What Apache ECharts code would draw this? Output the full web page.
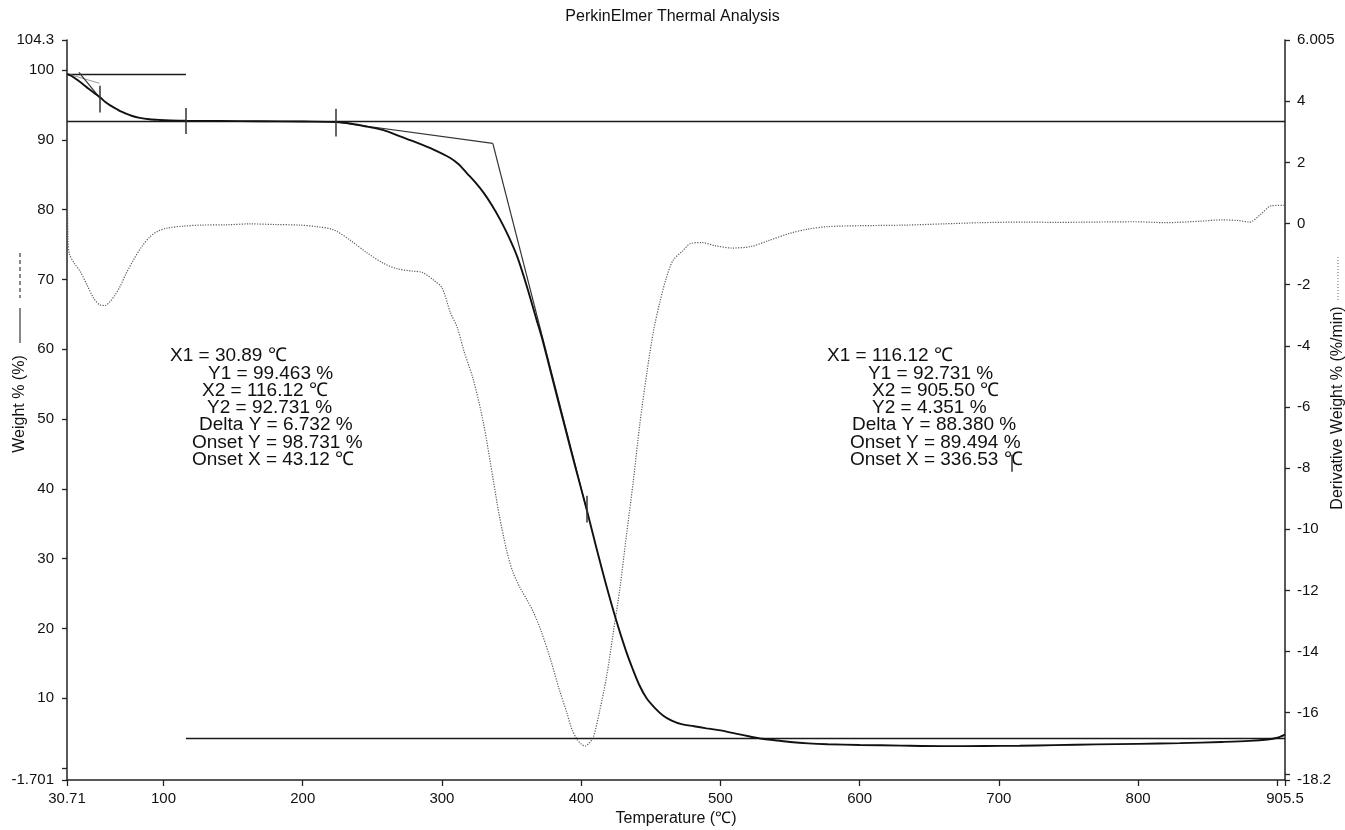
<!DOCTYPE html>
<html>
<head>
<meta charset="utf-8">
<title>PerkinElmer Thermal Analysis</title>
<script src="https://cdn.jsdelivr.net/npm/echarts@6/dist/echarts.min.js"></script>
<style>
  html, body { margin: 0; padding: 0; background: #ffffff; }
  #chart { width: 1345px; height: 830px; }
</style>
</head>
<body>
<div id="chart"></div>
<script>
// ---- TGA weight trace: temperature (°C) vs weight (%) ----
const tempC = [30.71, 34, 38, 42, 46, 50, 54.4, 58, 62, 66, 69, 73, 77, 83, 90, 97, 105, 116.12,
  140, 170, 200, 224, 235, 246, 258, 270, 282, 294, 306, 312, 318, 324, 330, 336, 342, 348, 354,
  361, 368, 372, 380, 388, 396, 404, 411, 418, 425, 432, 437, 442, 447, 453, 459, 465, 472, 481,
  490, 500, 511, 522, 530, 539, 550, 563, 577, 600, 630, 660, 690, 715, 740, 770, 800, 830, 860,
  880, 893, 900, 905.5];
const weightPct = [99.463, 99.15, 98.6, 98.0, 97.35, 96.75, 96.1, 95.45, 94.9, 94.45, 94.1, 93.75,
  93.45, 93.15, 92.95, 92.85, 92.78, 92.731, 92.70, 92.67, 92.62, 92.55, 92.3, 91.9, 91.4, 90.5,
  89.6, 88.6, 87.4, 86.5, 85.2, 83.9, 82.4, 80.6, 78.5, 76.1, 73.3, 69.0, 64.2, 61.5, 55.3, 49.1,
  43.0, 37.0, 31.5, 26.2, 21.3, 16.9, 14.2, 11.8, 10.0, 8.6, 7.5, 6.8, 6.3, 6.0, 5.7, 5.4, 4.95,
  4.5, 4.2, 4.0, 3.75, 3.55, 3.43, 3.32, 3.22, 3.15, 3.17, 3.2, 3.3, 3.4, 3.48, 3.58, 3.75, 3.9,
  4.1, 4.35, 4.8];

// ---- Derivative trace: temperature (°C) vs d(weight)/dt (%/min) ----
const dTempC = [30.71, 31.0, 31.4, 32.5, 36, 40, 45, 50, 54.4, 58, 61.6, 65, 68.8, 73, 78.4, 84,
  90.3, 96, 102.3, 115, 126, 145, 162, 180, 198, 210, 222, 234, 246, 258, 268, 278, 286, 294, 300,
  306, 311, 316, 322.5, 329.7, 336.9, 341, 346.5, 351, 356, 361, 365.6, 371, 377.6, 384, 389.6,
  393, 396.8, 400, 402.8, 405.5, 408.7, 413, 418.3, 423, 427.9, 432.5, 437.5, 442, 447.1, 452,
  456.6, 461, 466, 472.8, 478.2, 486.5, 496, 508.5, 522, 535, 549.7, 563, 577, 600, 632, 660, 687,
  720, 742, 770, 797, 820, 845, 860, 872, 880, 888, 895.6, 905.5];
const derivPctMin = [4.7, 2.0, -0.5, -1.0, -1.3, -1.55, -2.0, -2.45, -2.66, -2.68, -2.55, -2.35,
  -2.06, -1.65, -1.19, -0.78, -0.43, -0.25, -0.15, -0.08, -0.05, -0.04, -0.01, -0.03, -0.05, -0.1,
  -0.2, -0.54, -0.95, -1.3, -1.48, -1.55, -1.6, -1.85, -2.1, -2.9, -3.4, -4.2, -5.1, -6.5, -8.4,
  -9.5, -10.7, -11.4, -11.9, -12.3, -12.7, -13.3, -14.2, -15.2, -15.98, -16.5, -16.86, -17.02,
  -17.09, -17.0, -16.8, -16.0, -14.8, -13.4, -11.9, -10.2, -8.4, -6.6, -4.9, -3.5, -2.55, -1.8,
  -1.2, -0.9, -0.66, -0.62, -0.72, -0.8, -0.75, -0.55, -0.32, -0.18, -0.1, -0.07, -0.05, -0.01,
  0.03, 0.05, 0.04, 0.05, 0.06, 0.03, 0.08, 0.12, 0.1, 0.05, 0.3, 0.58, 0.6];

// ---- Axis ranges and tick values ----
const xMin = 30.71, xMax = 905.5;
const xTicks = [30.71, 100, 200, 300, 400, 500, 600, 700, 800, 900, 905.5];
const xLabels = [30.71, 100, 200, 300, 400, 500, 600, 700, 800, 905.5];
const wMin = -1.701, wMax = 104.3;
const wTicks = [-1.701, 0, 10, 20, 30, 40, 50, 60, 70, 80, 90, 100, 104.3];
const wLabels = [-1.701, 10, 20, 30, 40, 50, 60, 70, 80, 90, 100, 104.3];
const dMin = -18.2, dMax = 6.005;
const dTicks = [-18.2, -18, -16, -14, -12, -10, -8, -6, -4, -2, 0, 2, 4, 6.005];
const dLabels = [-18.2, -16, -14, -12, -10, -8, -6, -4, -2, 0, 2, 4, 6.005];

// ---- Step analysis results (step 1, step 2) ----
const stepX1 = [30.89, 116.12];
const stepY1 = [99.463, 92.731];
const stepX2 = [116.12, 905.50];
const stepY2 = [92.731, 4.351];
const stepDeltaY = [6.732, 88.380];
const onsetY = [98.731, 89.494];
const onsetX = [43.12, 336.53];

// Tangent segments used for the onset construction
const tangentStartT = [30.89, 39.3, 223.7, 336.53];
const tangentStartW = [99.463, 99.67, 92.55, 89.494];
const tangentEndT = [54.0, 54.4, 336.53, 404.0];
const tangentEndW = [98.1, 95.96, 89.494, 37.0];

// Short vertical cursor marks
const markT = [54.4, 116.12, 223.7, 404.0, 709.4];
const markLowW = [93.92, 90.83, 90.48, 35.2, 42.45];
const markHighW = [97.74, 94.55, 94.45, 39.0, 44.89];

const FONT = '"Liberation Sans", Arial, Helvetica, sans-serif';
const INK = '#111111';

const zip = (xs, ys) => xs.map((x, i) => [x, ys[i]]);

// Reference lines: step levels, tangents and cursor marks
const levelLines = [];
for (let s = 0; s < stepX1.length; s++) {
  levelLines.push({ coords: [[stepX1[s], stepY1[s]], [stepX2[s], stepY1[s]]] });
  levelLines.push({ coords: [[stepX1[s], stepY2[s]], [stepX2[s], stepY2[s]]] });
}
const tangentLines = tangentStartT.map((t, i) => ({
  coords: [[t, tangentStartW[i]], [tangentEndT[i], tangentEndW[i]]],
  lineStyle: i === 0 ? { color: '#9a9a9a', width: 1 } : { color: '#333333', width: 1.2 }
}));
const markLines = markT.map((t, i) => ({ coords: [[t, markLowW[i]], [t, markHighW[i]]] }));

// Annotation text built from the step results
const fmtC = v => v.toFixed(2) + ' \u2103';
const fmtP = v => v.toFixed(3) + ' %';
const noteLines = s => [
  'X1 = ' + fmtC(stepX1[s]),
  'Y1 = ' + fmtP(stepY1[s]),
  'X2 = ' + fmtC(stepX2[s]),
  'Y2 = ' + fmtP(stepY2[s]),
  'Delta Y = ' + fmtP(stepDeltaY[s]),
  'Onset Y = ' + fmtP(onsetY[s]),
  'Onset X = ' + fmtC(onsetX[s])
];
const noteLeft = [[170, 208, 202, 207, 199, 192, 192], [827, 868, 872, 872, 852, 850, 850]];
const noteTop = 356, noteStep = 17.3;

const graphics = [];
for (let s = 0; s < 2; s++) {
  noteLines(s).forEach((txt, i) => {
    graphics.push({
      type: 'text', x: noteLeft[s][i], y: noteTop + i * noteStep, silent: true,
      style: { text: txt, fontSize: 19, fontFamily: FONT, fill: INK,
               align: 'left', verticalAlign: 'middle', textAlign: 'left', textVerticalAlign: 'middle' }
    });
  });
}
// Left axis title with its line key
graphics.push({
  type: 'text', x: 20, y: 404, rotation: Math.PI / 2, silent: true,
  style: { text: 'Weight % (%)', fontSize: 16, fontFamily: FONT, fill: INK,
           align: 'center', verticalAlign: 'middle', textAlign: 'center', textVerticalAlign: 'middle' }
});
graphics.push({ type: 'line', silent: true, shape: { x1: 20, y1: 308, x2: 20, y2: 343 },
  style: { stroke: INK, lineWidth: 1 } });
graphics.push({ type: 'line', silent: true, shape: { x1: 20, y1: 253, x2: 20, y2: 298 },
  style: { stroke: INK, lineWidth: 1, lineDash: [4, 3] } });
// Right axis title with its line key
graphics.push({
  type: 'text', x: 1338, y: 408, rotation: Math.PI / 2, silent: true,
  style: { text: 'Derivative Weight % (%/min)', fontSize: 16, fontFamily: FONT, fill: INK,
           align: 'center', verticalAlign: 'middle', textAlign: 'center', textVerticalAlign: 'middle' }
});
graphics.push({ type: 'line', silent: true, shape: { x1: 1338, y1: 257, x2: 1338, y2: 300 },
  style: { stroke: '#666666', lineWidth: 1, lineDash: [1, 2] } });

const axisLine = { show: true, onZero: false, lineStyle: { color: '#222222', width: 1.5 } };
const tickStyle = { color: '#222222', width: 1.3 };
const labelStyle = { fontSize: 15, fontFamily: FONT, color: INK };

const chart = echarts.init(document.getElementById('chart'), null, { renderer: 'canvas' });
chart.setOption({
  animation: false,
  backgroundColor: '#ffffff',
  title: {
    text: 'PerkinElmer Thermal Analysis', left: 'center', top: 4,
    textStyle: { fontSize: 16, fontWeight: 'normal', fontFamily: FONT, color: INK }
  },
  grid: { left: 67, right: 60, top: 40, bottom: 50, containLabel: false, outerBoundsMode: 'none' },
  graphic: graphics,
  xAxis: {
    type: 'value', min: xMin, max: xMax,
    axisLine: axisLine,
    axisTick: { show: true, length: 6, customValues: xTicks, lineStyle: tickStyle },
    axisLabel: Object.assign({ customValues: xLabels, margin: 11 }, labelStyle),
    splitLine: { show: false },
    name: 'Temperature (\u2103)', nameLocation: 'middle', nameGap: 31,
    nameTextStyle: { fontSize: 16, fontFamily: FONT, color: INK }
  },
  yAxis: [
    {
      type: 'value', position: 'left', min: wMin, max: wMax,
      axisLine: axisLine,
      axisTick: { show: true, length: 5, customValues: wTicks, lineStyle: tickStyle },
      axisLabel: Object.assign({ customValues: wLabels, margin: 13 }, labelStyle),
      splitLine: { show: false }
    },
    {
      type: 'value', position: 'right', min: dMin, max: dMax,
      axisLine: axisLine,
      axisTick: { show: true, length: 5, customValues: dTicks, lineStyle: tickStyle },
      axisLabel: Object.assign({ customValues: dLabels, margin: 12 }, labelStyle),
      splitLine: { show: false }
    }
  ],
  series: [
    {
      name: 'Derivative Weight', type: 'line', xAxisIndex: 0, yAxisIndex: 1,
      data: zip(dTempC, derivPctMin), showSymbol: false, smooth: 0.3,
      lineStyle: { color: '#5a5a5a', width: 1.2, type: [1.2, 1.4] }, z: 2
    },
    {
      name: 'Weight', type: 'line', xAxisIndex: 0, yAxisIndex: 0,
      data: zip(tempC, weightPct), showSymbol: false, smooth: 0.3,
      lineStyle: { color: '#111111', width: 1.9 }, z: 4
    },
    {
      name: 'Levels', type: 'lines', coordinateSystem: 'cartesian2d', xAxisIndex: 0, yAxisIndex: 0,
      data: levelLines, silent: true, lineStyle: { color: '#1a1a1a', width: 1.4, opacity: 1 }, z: 3
    },
    {
      name: 'Tangents', type: 'lines', coordinateSystem: 'cartesian2d', xAxisIndex: 0, yAxisIndex: 0,
      data: tangentLines, silent: true, lineStyle: { color: '#333333', width: 1.2, opacity: 1 }, z: 3
    },
    {
      name: 'Marks', type: 'lines', coordinateSystem: 'cartesian2d', xAxisIndex: 0, yAxisIndex: 0,
      data: markLines, silent: true, lineStyle: { color: '#333333', width: 1.5, opacity: 1 }, z: 5
    }
  ]
});
</script>
</body>
</html>
